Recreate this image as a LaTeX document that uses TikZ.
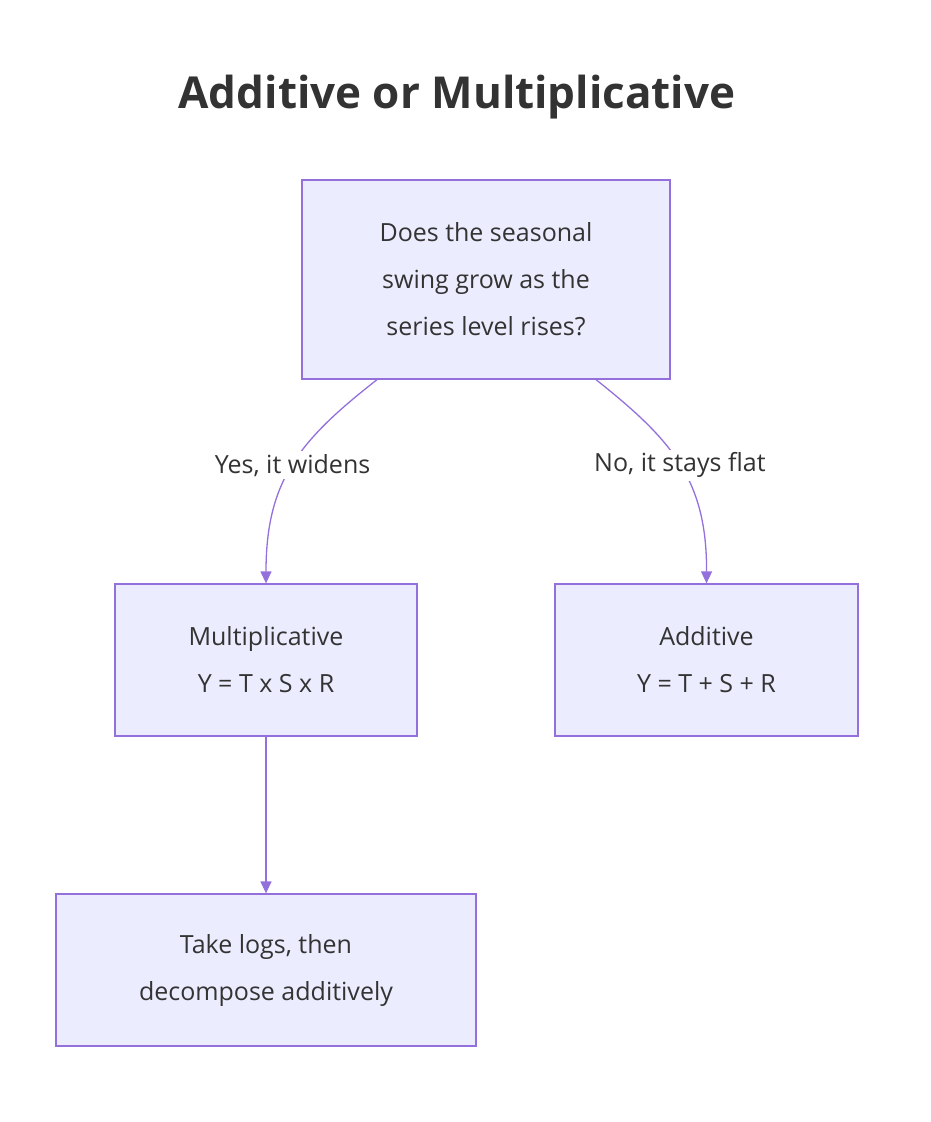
\documentclass[tikz,border=0pt]{standalone}
\usepackage{fontspec}
\setmainfont{Open Sans}
\usetikzlibrary{arrows.meta}
\definecolor{boxfill}{HTML}{ECECFF}
\definecolor{boxline}{HTML}{9370DB}
\definecolor{ink}{HTML}{333333}
\tikzstyle{process} = [rectangle, 
minimum height=152pt, 
text centered, 
draw=boxline, line width=1.3pt,
fill=boxfill,
text=ink,
font=\fontsize{25}{47}\selectfont]
\tikzstyle{label} = [fill=white, text=ink, inner sep=3pt,
font=\fontsize{25}{30}\selectfont]
\tikzstyle{arrow} = [draw=boxline, line width=1.3pt, -{Triangle[length=12pt,width=11pt]}]

\begin{document}
\begin{tikzpicture}[x=1pt, y=-1pt]
\useasboundingbox (0,0) rectangle (930,1122);

\node (title) [text=ink, font=\fontsize{44}{50}\selectfont\bfseries] at (457,97) {Additive or Multiplicative};
\node (ask) [process, minimum width=368pt, minimum height=199pt, align=center] at (486,279.5) {Does the seasonal\\swing grow as the\\series level rises?};
\node (mult) [process, minimum width=302pt, align=center] at (266,660) {Multiplicative\\Y = T x S x R};
\node (add) [process, minimum width=303pt, align=center] at (706.5,660) {Additive\\Y = T + S + R};
\node (logs) [process, minimum width=420pt, align=center] at (266,970) {Take logs, then\\decompose additively};

\draw [arrow] ([xshift=-109pt]ask.south) .. controls (300,440) and (266,480) .. (mult.north)
  node[label, pos=0.5] {Yes, it widens};
\draw [arrow] ([xshift=110pt]ask.south) .. controls (672,440) and (707,480) .. (add.north)
  node[label, pos=0.5] {No, it stays flat};
\draw [arrow] (mult) -- (logs);

\end{tikzpicture}
\end{document}
